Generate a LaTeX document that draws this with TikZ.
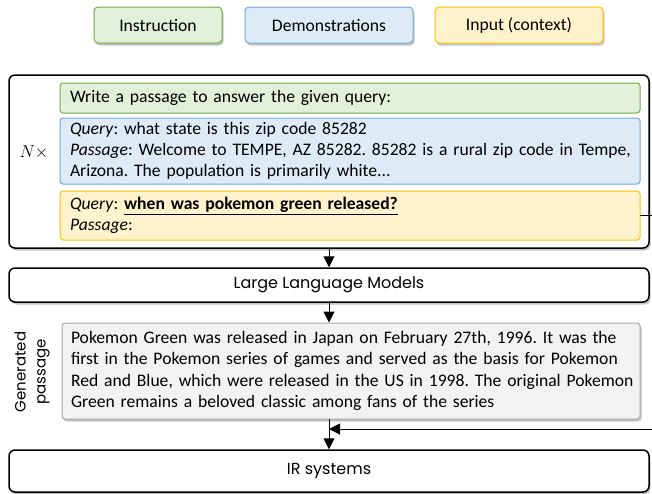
\documentclass[tikz,border=0pt]{standalone}
\usepackage{fontspec}
\setmainfont{Carlito}
\newfontfamily\comicfont{Poppins}
\usetikzlibrary{arrows.meta,shadows}
\definecolor{instrfill}{HTML}{E2F0D9}
\definecolor{instrline}{HTML}{70AD47}
\definecolor{demofill}{HTML}{DEEBF7}
\definecolor{demoline}{HTML}{6FA8DC}
\definecolor{inputfill}{HTML}{FFF2CC}
\definecolor{inputline}{HTML}{FFC000}
\definecolor{genfill}{HTML}{F2F2F2}
\definecolor{genline}{HTML}{A6A6A6}
\newcommand{\bodyfont}{\fontsize{17.6}{21.3}\selectfont}
\frenchspacing

\begin{document}
\begin{tikzpicture}[line cap=round,line join=round,>={Triangle[length=11pt,width=11pt]},x=1pt,y=-1pt,
  softshadow/.style={drop shadow={shadow xshift=1.5pt,shadow yshift=-2.5pt,fill=black!45,opacity=.5}},
  legendbox/.style={draw,line width=1pt,rounded corners=4pt,minimum height=36pt,font=\bodyfont,softshadow},
  partbox/.style={draw,line width=1pt,rounded corners=3pt,text width=568pt,inner xsep=6pt,align=left,font=\bodyfont},
  blockbox/.style={draw,line width=1.5pt,rounded corners=6pt,minimum width=640pt,fill=white,softshadow},
  comicbox/.style={blockbox,font=\comicfont\fontsize{16}{19}\selectfont}]
\useasboundingbox (0,0) rectangle (652,493);
% legend
\node [legendbox,fill=instrfill,draw=instrline,minimum width=128pt] (legInstr) at (158,25) {Instruction};
\node [legendbox,fill=demofill,draw=demoline,minimum width=168pt] (legDemo) at (329,25) {Demonstrations};
\node [legendbox,fill=inputfill,draw=inputline,minimum width=168pt] (legInput) at (519,25) {Input (context)};
% prompt
\node [blockbox,minimum height=173pt] (prompt) at (329,161.5) {};
\node [partbox,fill=instrfill,draw=instrline,minimum height=30pt] (instr) at (350,98) {\hspace{4pt}Write a passage to answer the given query:};
\node [partbox,fill=demofill,draw=demoline,minimum height=66pt] (demo) at (350,151) {\hspace{4pt}\textit{Query}: what state is this zip code 85282\\
\hspace{4pt}\textit{Passage}: Welcome to TEMPE, AZ 85282. 85282 is a rural zip code in Tempe,\\
\hspace{4pt}Arizona. The population is primarily white...};
\node [partbox,fill=inputfill,draw=inputline,minimum height=49pt] (input) at (350,215.5) {\hspace{4pt}\textit{Query}: \underline{\textbf{when was pokemon green released?}}\\
\hspace{4pt}\textit{Passage}:};
\node [font=\bodyfont] (times) at (34,152) {$N\times$};
% models
\node [comicbox,minimum height=34pt] (llm) at (329,285) {Large Language Models};
\node [partbox,fill=genfill,draw=genline,text width=566pt,minimum height=96pt,softshadow] (gen) at (351,371) {\hspace{3pt}Pokemon Green was released in Japan on February 27th, 1996. It was the\\
\hspace{3pt}first in the Pokemon series of games and served as the basis for Pokemon\\
\hspace{3pt}Red and Blue, which were released in the US in 1998. The original Pokemon\\
\hspace{3pt}Green remains a beloved classic among fans of the series};
\node [rotate=90,align=center,font=\comicfont\fontsize{15}{20}\selectfont] (genLabel) at (32,372) {Generated\\passage};
\node [comicbox,minimum height=42pt] (ir) at (329,471) {IR systems};
% connectors
\coordinate (feedA) at (652,215.5);
\coordinate (feedB) at (652,429);
\draw [line width=1pt,->] (prompt.south) -- (llm.north);
\draw [line width=1pt,->] (llm.south) -- (llm.south |- gen.north);
\draw [line width=1pt,->] (ir.north |- gen.south) -- (ir.north);
\draw [line width=1pt] (input.east) -- (feedA);
\draw [line width=1pt,->] (feedB) -- (feedB -| ir.north);
\end{tikzpicture}
\end{document}
